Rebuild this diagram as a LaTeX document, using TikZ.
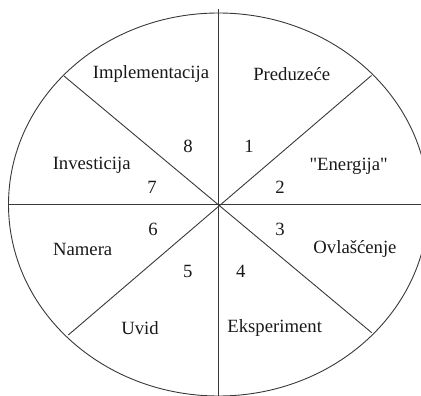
\documentclass[tikz,border=0pt]{standalone}
\usepackage{fontspec}
\setmainfont{Liberation Serif}[Ligatures=TeXOff]
\begin{document}
\begin{tikzpicture}[x=1pt,y=-1pt,
  seg/.style={draw=black!78,line width=0.9pt},
  lbl/.style={font=\fontsize{18.7}{20}\selectfont,text=black!90,inner sep=0pt,anchor=center}]
\useasboundingbox (0,0) rectangle (421,396);
\begin{scope}
\clip (0,0) rectangle (421,396);
\coordinate (c) at (218.5,204.5);
\draw[seg] (c) ellipse [x radius=210, y radius=191.5];
\coordinate (top) at (218.5,9);
\coordinate (bot) at (218.5,396);
\coordinate (lft) at (9,204.5);
\coordinate (rgt) at (421,204.5);
\coordinate (ul) at (64,76);
\coordinate (ur) at (371.5,75.5);
\coordinate (ll) at (68.3,335);
\coordinate (lr) at (371.7,332.7);
\draw[seg] (top) -- (bot);
\draw[seg] (lft) -- (rgt);
\draw[seg] (ul) -- (lr);
\draw[seg] (ur) -- (ll);
\end{scope}
\node[lbl] (impl) at (151,74) {Implementacija};
\node[lbl] (pred) at (291.7,74) {Preduzeće};
\node[lbl] (ener) at (348.7,166.5) {"Energija"};
\node[lbl] (inv) at (91.7,165.5) {Investicija};
\node[lbl] (nam) at (82.7,249) {Namera};
\node[lbl] (ovl) at (355,249) {Ovlašćenje};
\node[lbl] (uvid) at (140,328) {Uvid};
\node[lbl] (eks) at (274.7,328) {Eksperiment};
\node[lbl] (n8) at (188,146) {8};
\node[lbl] (n1) at (249,146) {1};
\node[lbl] (n7) at (152,187) {7};
\node[lbl] (n2) at (280,187) {2};
\node[lbl] (n6) at (153,229) {6};
\node[lbl] (n3) at (280,229) {3};
\node[lbl] (n5) at (187.7,271.7) {5};
\node[lbl] (n4) at (240.7,271.7) {4};
\end{tikzpicture}
\end{document}
